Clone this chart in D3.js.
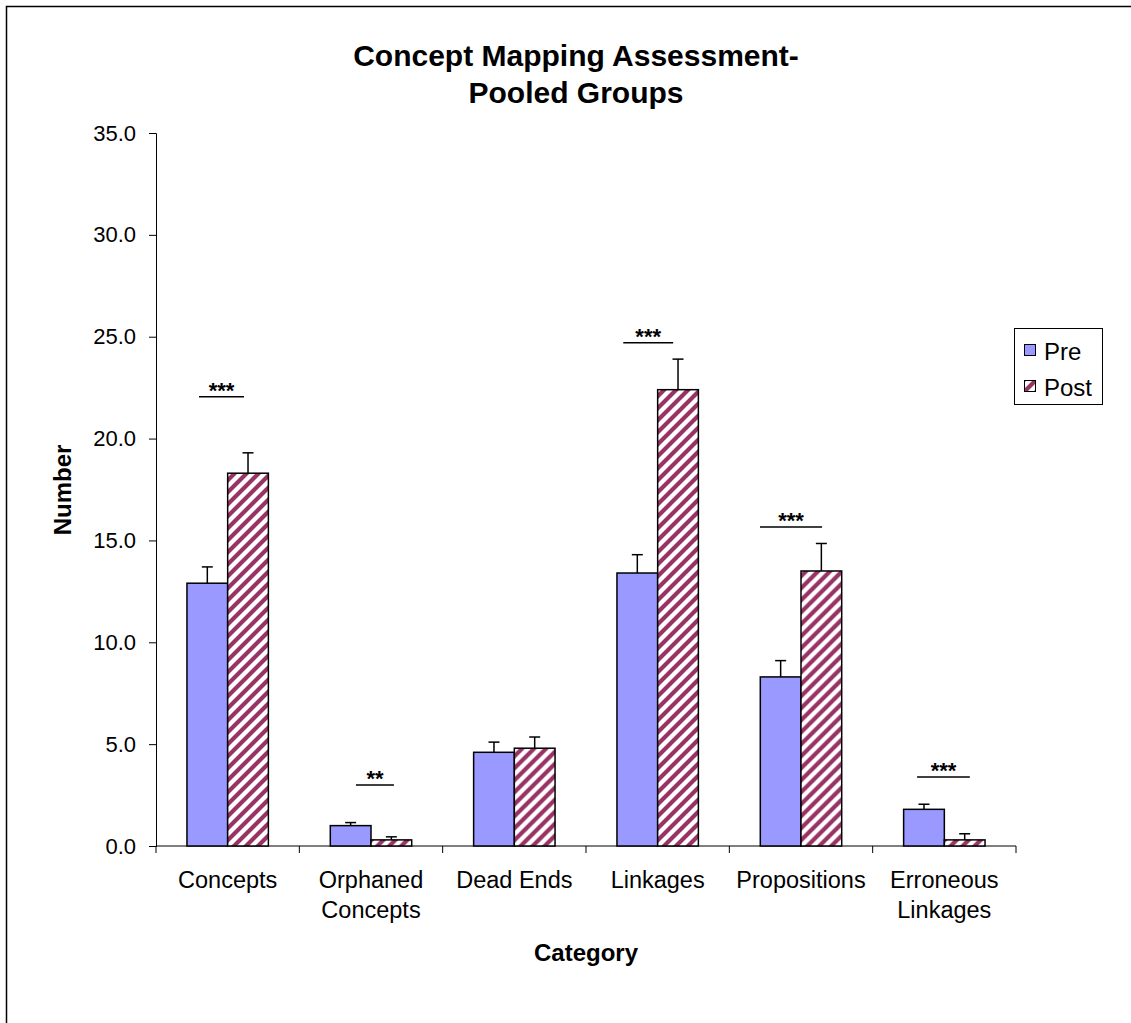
<!DOCTYPE html>
<html>
<head>
<meta charset="utf-8">
<script src="https://cdn.jsdelivr.net/npm/d3@7"></script>
<style>
  html, body { margin: 0; padding: 0; background: #fff; }
  svg { display: block; font-family: "Liberation Sans", Arial, sans-serif; }
</style>
</head>
<body>
<svg id="chart" width="1131" height="1023"></svg>
<script>
// ---- data ----
const categories = [["Concepts"], ["Orphaned", "Concepts"], ["Dead Ends"], ["Linkages"], ["Propositions"], ["Erroneous", "Linkages"]];
const series = ["Pre", "Post"];
const preValues  = [12.9, 1.0, 4.6, 13.4, 8.3, 1.8];
const postValues = [18.3, 0.3, 4.8, 22.4, 13.5, 0.3];
const preErrors  = [0.8, 0.15, 0.5, 0.9, 0.8, 0.25];
const postErrors = [1.0, 0.15, 0.55, 1.5, 1.35, 0.3];
const yTicks = [0, 5, 10, 15, 20, 25, 30, 35];
const sigLabels = ["***", "**", "", "***", "***", "***"];
const sigLevels = [22.05, 3.0, null, 24.7, 15.66, 3.39];
const sigFromFrac = [-0.20, -0.105, 0, -0.24, -0.286, -0.19];
const sigToFrac   = [0.114, 0.16, 0, 0.108, 0.147, 0.178];

// ---- layout ----
const svg = d3.select("#chart");
const plot = { left: 156, right: 1016, top: 133, bottom: 846 };

svg.append("rect").attr("x", 6.5).attr("y", 6.5).attr("width", 1130).attr("height", 1030)
  .attr("fill", "none").attr("stroke", "#000").attr("stroke-width", 1.5);

const defs = svg.append("defs");
const pat = defs.append("pattern").attr("id", "hatch").attr("patternUnits", "userSpaceOnUse")
  .attr("width", 12).attr("height", 12);
pat.append("rect").attr("width", 12).attr("height", 12).attr("fill", "#fff");
pat.append("path").attr("d", "M-3,3 L3,-3 M0,12 L12,0 M9,15 L15,9")
  .attr("stroke", "#993366").attr("stroke-width", 4.2);

const catKeys = categories.map(c => c.join(" "));
const x = d3.scaleBand().domain(catKeys).range([plot.left, plot.right]).padding(0);
const bw = x.bandwidth();
const xs = d3.scaleBand().domain(series).range([bw * 0.216, bw * 0.784]).padding(0);
const y = d3.scaleLinear().domain([0, 35]).range([plot.bottom, plot.top]);

// title
const title = svg.append("text").attr("x", 576).attr("text-anchor", "middle")
  .attr("font-weight", "bold").attr("font-size", 30).attr("fill", "#000");
title.append("tspan").attr("x", 576).attr("y", 66).text("Concept Mapping Assessment-");
title.append("tspan").attr("x", 576).attr("y", 103).text("Pooled Groups");

// y axis
const yAxis = d3.axisLeft(y).tickValues(yTicks).tickFormat(d3.format(".1f")).tickSize(7).tickPadding(13);
const gy = svg.append("g").attr("transform", `translate(${plot.left},0)`).call(yAxis);
gy.select(".domain").attr("stroke", "#000");
gy.selectAll(".tick line").attr("stroke", "#000");
gy.selectAll(".tick text").attr("font-size", 22).attr("fill", "#000")
  .attr("font-family", "'Liberation Sans', Arial, sans-serif");

// x axis
const gx = svg.append("g").attr("transform", `translate(0,${plot.bottom})`);
gx.append("line").attr("x1", plot.left).attr("x2", plot.right).attr("stroke", "#000");
const bounds = catKeys.map(k => x(k)).concat([plot.right]);
gx.selectAll("line.tk").data(bounds).join("line").attr("class", "tk")
  .attr("x1", d => d).attr("x2", d => d).attr("y1", 0).attr("y2", 7).attr("stroke", "#000");
categories.forEach((lines, i) => {
  const cx = x(catKeys[i]) + bw / 2;
  const t = gx.append("text").attr("text-anchor", "middle").attr("font-size", 23.5).attr("fill", "#000");
  lines.forEach((ln, j) => t.append("tspan").attr("x", cx).attr("y", 42 + j * 30).text(ln));
});

// axis titles
svg.append("text").attr("x", (plot.left + plot.right) / 2 - 0).attr("y", 961)
  .attr("text-anchor", "middle").attr("font-weight", "bold").attr("font-size", 24).text("Category");
svg.append("text").attr("transform", "translate(71,490) rotate(-90)")
  .attr("text-anchor", "middle").attr("font-weight", "bold").attr("font-size", 24).text("Number");

// bars
const rows = catKeys.map((k, i) => ({ k, i, vals: [
  { s: "Pre", v: preValues[i], e: preErrors[i] },
  { s: "Post", v: postValues[i], e: postErrors[i] }] }));
const g = svg.append("g");
const grp = g.selectAll("g.cat").data(rows).join("g").attr("class", "cat")
  .attr("transform", d => `translate(${x(d.k)},0)`);
grp.selectAll("g.err").data(d => d.vals).join("g").attr("class", "err").each(function(d) {
  const cx = xs(d.s) + xs.bandwidth() / 2;
  const gg = d3.select(this);
  gg.append("line").attr("x1", cx).attr("x2", cx).attr("y1", y(d.v)).attr("y2", y(d.v + d.e))
    .attr("stroke", "#000").attr("stroke-width", 1.5);
  gg.append("line").attr("x1", cx - 5.5).attr("x2", cx + 5.5).attr("y1", y(d.v + d.e)).attr("y2", y(d.v + d.e))
    .attr("stroke", "#000").attr("stroke-width", 1.5);
});
grp.selectAll("rect.bar").data(d => d.vals).join("rect").attr("class", "bar")
  .attr("x", d => xs(d.s)).attr("width", xs.bandwidth())
  .attr("y", d => y(d.v)).attr("height", d => y(0) - y(d.v))
  .attr("fill", d => d.s === "Pre" ? "#9999FF" : "url(#hatch)")
  .attr("stroke", "#000").attr("stroke-width", 1.5);

// significance markers
sigLabels.forEach((lab, i) => {
  if (!lab) return;
  const x0 = x(catKeys[i]) + bw / 2 + sigFromFrac[i] * bw;
  const x1 = x(catKeys[i]) + bw / 2 + sigToFrac[i] * bw;
  const ly = y(sigLevels[i]);
  svg.append("line").attr("x1", x0).attr("x2", x1).attr("y1", ly).attr("y2", ly)
    .attr("stroke", "#000").attr("stroke-width", 1.5);
  svg.append("text").attr("x", (x0 + x1) / 2).attr("y", ly + 1).attr("text-anchor", "middle")
    .attr("font-weight", "bold").attr("font-size", 22).text(lab);
});

// legend
const lg = svg.append("g");
lg.append("rect").attr("x", 1014.5).attr("y", 328.5).attr("width", 88).attr("height", 76)
  .attr("fill", "#fff").attr("stroke", "#000").attr("stroke-width", 1);
series.forEach((s, i) => {
  const yy = 344 + i * 36;
  lg.append("rect").attr("x", 1024.5).attr("y", yy + 0.5).attr("width", 11).attr("height", 11)
    .attr("fill", s === "Pre" ? "#9999FF" : "url(#hatch)").attr("stroke", "#000").attr("stroke-width", 1);
  lg.append("text").attr("x", 1044).attr("y", yy + 16).attr("font-size", 24).text(s);
});
</script>
</body>
</html>
